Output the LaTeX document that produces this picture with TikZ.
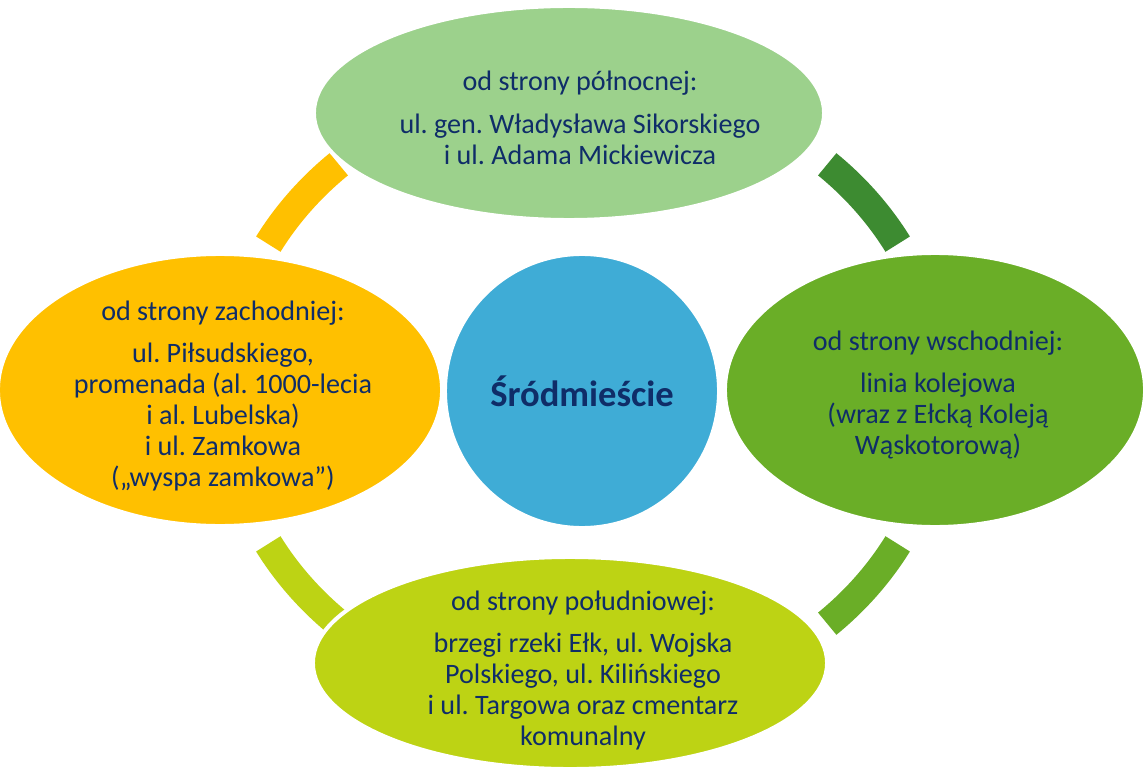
\documentclass[tikz,border=0pt]{standalone}
\usepackage{fontspec}
\setmainfont{Carlito}
\usepackage{tikz}
\usetikzlibrary{shapes.geometric}
\frenchspacing

\definecolor{navy}{HTML}{0F2D68}
\definecolor{northc}{HTML}{9CD18C}
\definecolor{darkgr}{HTML}{3D8B31}
\definecolor{eastc}{HTML}{6AAE27}
\definecolor{southc}{HTML}{BDD314}
\definecolor{westc}{HTML}{FFC000}
\definecolor{centc}{HTML}{3FACD6}

\begin{document}
\begin{tikzpicture}[x=0.025cm,y=0.025cm]
	\tikzset{zone/.style={ellipse,draw=white,line width=0.1cm,inner sep=0pt}}
	\tikzset{seg/.style={line width=0.72cm}}
	\tikzset{ringarc/.style={x radius=8.95cm,y radius=7.85cm}}
	\tikzset{txt/.style={align=center,text=navy,font=\fontsize{20}{22}\selectfont}}

	\useasboundingbox (0,0) rectangle (1143,-767);

	%% ring behind the zones
	\coordinate (ring) at (583,-394);
	\draw[seg,westc] ([shift={(133:8.95cm and 7.85cm)}]ring) arc[ringarc,start angle=133,end angle=151.5];
	\draw[seg,darkgr] ([shift={(28.5:8.95cm and 7.85cm)}]ring) arc[ringarc,start angle=28.5,end angle=47];
	\draw[seg,southc] ([shift={(208.5:8.95cm and 7.85cm)}]ring) arc[ringarc,start angle=208.5,end angle=227];
	\draw[seg,eastc] ([shift={(313:8.95cm and 7.85cm)}]ring) arc[ringarc,start angle=313,end angle=331.5];

	%% zones
	\node[zone,fill=northc,minimum width=12.75cm,minimum height=5.35cm] (north) at (569,-113) {};
	\node[zone,fill=westc,minimum width=11.1cm,minimum height=6.8cm] (west) at (220,-390) {};
	\node[zone,fill=eastc,minimum width=10.5cm,minimum height=6.85cm] (east) at (935,-390) {};
	\node[zone,fill=southc,minimum width=12.85cm,minimum height=5.3cm] (south) at (570,-663) {};
	\node[zone,circle,fill=centc,minimum size=6.85cm] (centre) at (582,-391) {};

	%% labels
	\node[txt] (northtxt) at (580,-118) {od strony północnej:\\[8.5pt]
		ul. gen. Władysława Sikorskiego\\i ul. Adama Mickiewicza};
	\node[txt] (westtxt) at (223,-396) {od strony zachodniej:\\[8pt]
		ul. Piłsudskiego,\\promenada (al. 1000-lecia\\i al. Lubelska)\\i ul. Zamkowa\\(„wyspa zamkowa”)};
	\node[txt] (easttxt) at (938,-395) {od strony wschodniej:\\[8pt]
		linia kolejowa\\(wraz z Ełcką Koleją\\Wąskotorową)};
	\node[txt] (southtxt) at (583,-670) {od strony południowej:\\[8pt]
		brzegi rzeki Ełk, ul. Wojska\\Polskiego, ul. Kilińskiego\\i ul. Targowa oraz cmentarz\\komunalny};
	\node[text=navy,font=\fontsize{26}{30}\selectfont\bfseries] (centretxt) at (centre) {Śródmieście};
\end{tikzpicture}
\end{document}
